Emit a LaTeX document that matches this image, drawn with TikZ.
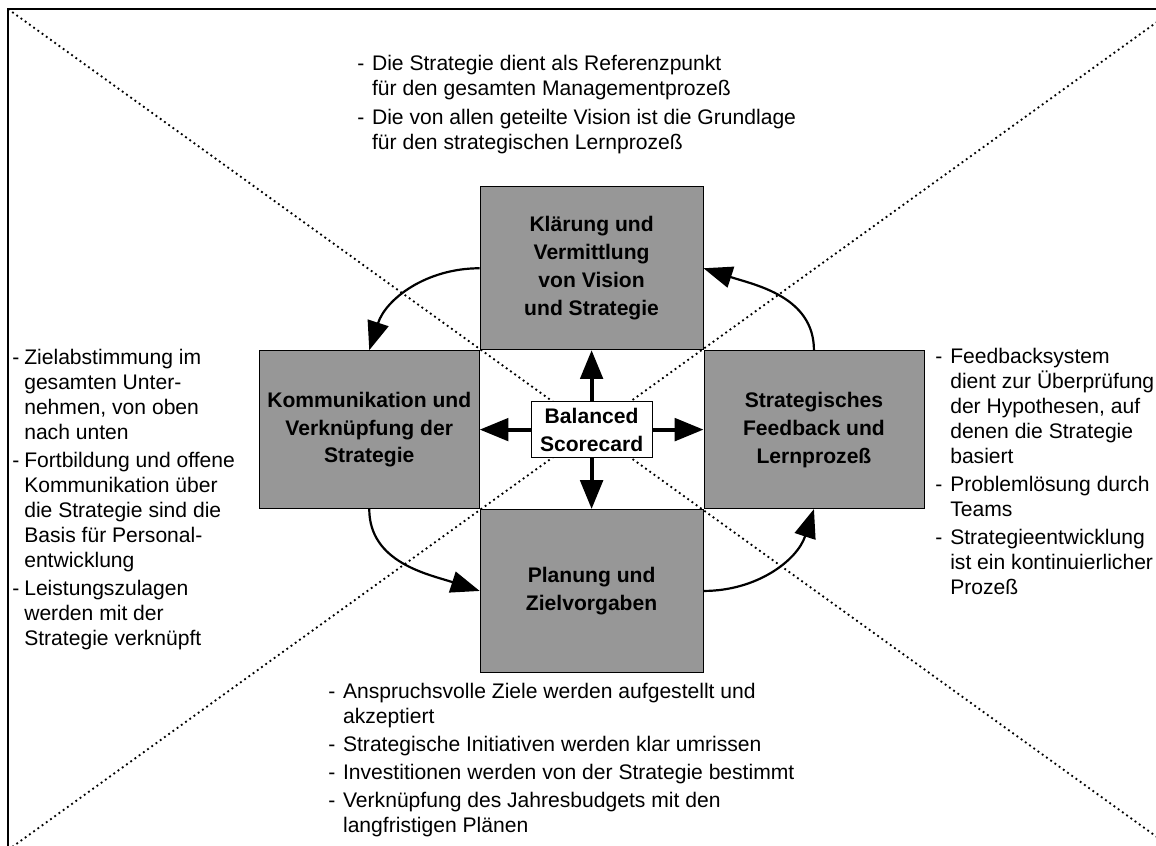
\documentclass[tikz,border=0pt]{standalone}
\usepackage{fontspec}
\setmainfont{Liberation Sans}
\usetikzlibrary{positioning, arrows.meta}

\definecolor{boxgray}{RGB}{151,151,151}

\newlength{\hangw}
\setlength{\hangw}{0.37cm}
\newcommand{\bdash}{\makebox[\hangw][l]{-}}
\newcommand{\bcont}{\hspace*{\hangw}}
% narrower hang for the block at the left edge
\newcommand{\ndash}{\makebox[0.3cm][l]{-}}
\newcommand{\ncont}{\hspace*{0.3cm}}

\tikzstyle{bigbox} = [rectangle, 
draw=black, line width=0.6pt,
fill=boxgray,
inner sep=0pt,
align=center,
font=\fontsize{15pt}{19.9pt}\selectfont\bfseries]
\tikzstyle{sidebox} = [bigbox, minimum width=5.5cm, minimum height=3.95cm]
\tikzstyle{endbox} = [bigbox, minimum width=5.575cm, minimum height=4.075cm]
\tikzstyle{bscnode} = [rectangle, 
draw=black, line width=0.6pt,
fill=white,
minimum width=3.025cm, 
minimum height=1.4cm,
inner sep=0pt,
align=center,
font=\fontsize{15pt}{19.9pt}\selectfont\bfseries]
\tikzstyle{notes} = [anchor=north west, inner sep=0pt, align=left,
font=\fontsize{15pt}{17.8pt}\selectfont]
\tikzstyle{diag} = [line width=1.3pt, dash pattern=on 1.3pt off 2.4pt]
\tikzstyle{cyclearrow} = [line width=0.055cm, -{Triangle[length=0.72cm,width=0.54cm]}]
\tikzstyle{bscarrow} = [line width=0.1cm, -{Triangle[length=0.72cm,width=0.56cm]}]

\begin{document}
\begin{tikzpicture}
\clip (0,0) rectangle (28.9,-21.125);
\def\gap{1.275cm}

% frame and diagonals
\coordinate (ftl) at (0.2,-0.225);
\coordinate (fbr) at (29.375,-21.25);
\coordinate (fbl) at (0.2,-21.25);
\coordinate (ftr) at (29.375,-0.225);
\draw [line width=0.05cm] (ftl) rectangle (fbr);
\draw [diag] (ftl) -- (fbr);
\draw [diag] (fbl) -- (ftr);

\node (bsc) [bscnode] at (14.79,-10.74) {Balanced\\ Scorecard};

\node (vision) [endbox, above=\gap of bsc] {Klärung und\\ Vermittlung\\ von Vision\\ und Strategie};
\node (comm) [sidebox, left=\gap of bsc] {Kommunikation und\\ Verknüpfung der\\ Strategie};
\node (feed) [sidebox, right=\gap of bsc] {Strategisches\\ Feedback und\\ Lernprozeß};
\node (plan) [endbox, below=\gap of bsc] {Planung und\\ Zielvorgaben};

\draw [bscarrow] (bsc) -- (vision);
\draw [bscarrow] (bsc) -- (comm);
\draw [bscarrow] (bsc) -- (feed);
\draw [bscarrow] (bsc) -- (plan);

\draw [cyclearrow] (vision.west) to[out=180, in=72] (comm.north);
\draw [cyclearrow] (comm.south) to[out=-90, in=162] (plan.west);
\draw [cyclearrow] (plan.east) to[out=0, in=-108] (feed.south);
\draw [cyclearrow] (feed.north) to[out=90, in=-18] (vision.east);

\node (topnote) [notes] at (8.925,-1.37) {\bdash Die Strategie dient als Referenzpunkt\\
\bcont für den gesamten Managementprozeß\\[0.1cm]
\bdash Die von allen geteilte Vision ist die Grundlage\\
\bcont für den strategischen Lernprozeß};

\node (leftnote) [notes] at (0.3,-8.72) {\ndash Zielabstimmung im\\
\ncont gesamten Unter-\\
\ncont nehmen, von oben\\
\ncont nach unten\\[0.075cm]
\ndash Fortbildung und offene\\
\ncont Kommunikation über\\
\ncont die Strategie sind die\\
\ncont Basis für Personal-\\
\ncont entwicklung\\[0.075cm]
\ndash Leistungszulagen\\
\ncont werden mit der\\
\ncont Strategie verknüpft};

\node (rightnote) [notes] at (23.38,-8.7) {\bdash Feedbacksystem\\
\bcont dient zur Überprüfung\\
\bcont der Hypothesen, auf\\
\bcont denen die Strategie\\
\bcont basiert\\[0.075cm]
\bdash Problemlösung durch\\
\bcont Teams\\[0.075cm]
\bdash Strategieentwicklung\\
\bcont ist ein kontinuierlicher\\
\bcont Prozeß};

\node (bottomnote) [notes] at (8.2,-17.08) {\bdash Anspruchsvolle Ziele werden aufgestellt und\\
\bcont akzeptiert\\[0.075cm]
\bdash Strategische Initiativen werden klar umrissen\\[0.075cm]
\bdash Investitionen werden von der Strategie bestimmt\\[0.075cm]
\bdash Verknüpfung des Jahresbudgets mit den\\
\bcont langfristigen Plänen};

\end{tikzpicture}
\end{document}
